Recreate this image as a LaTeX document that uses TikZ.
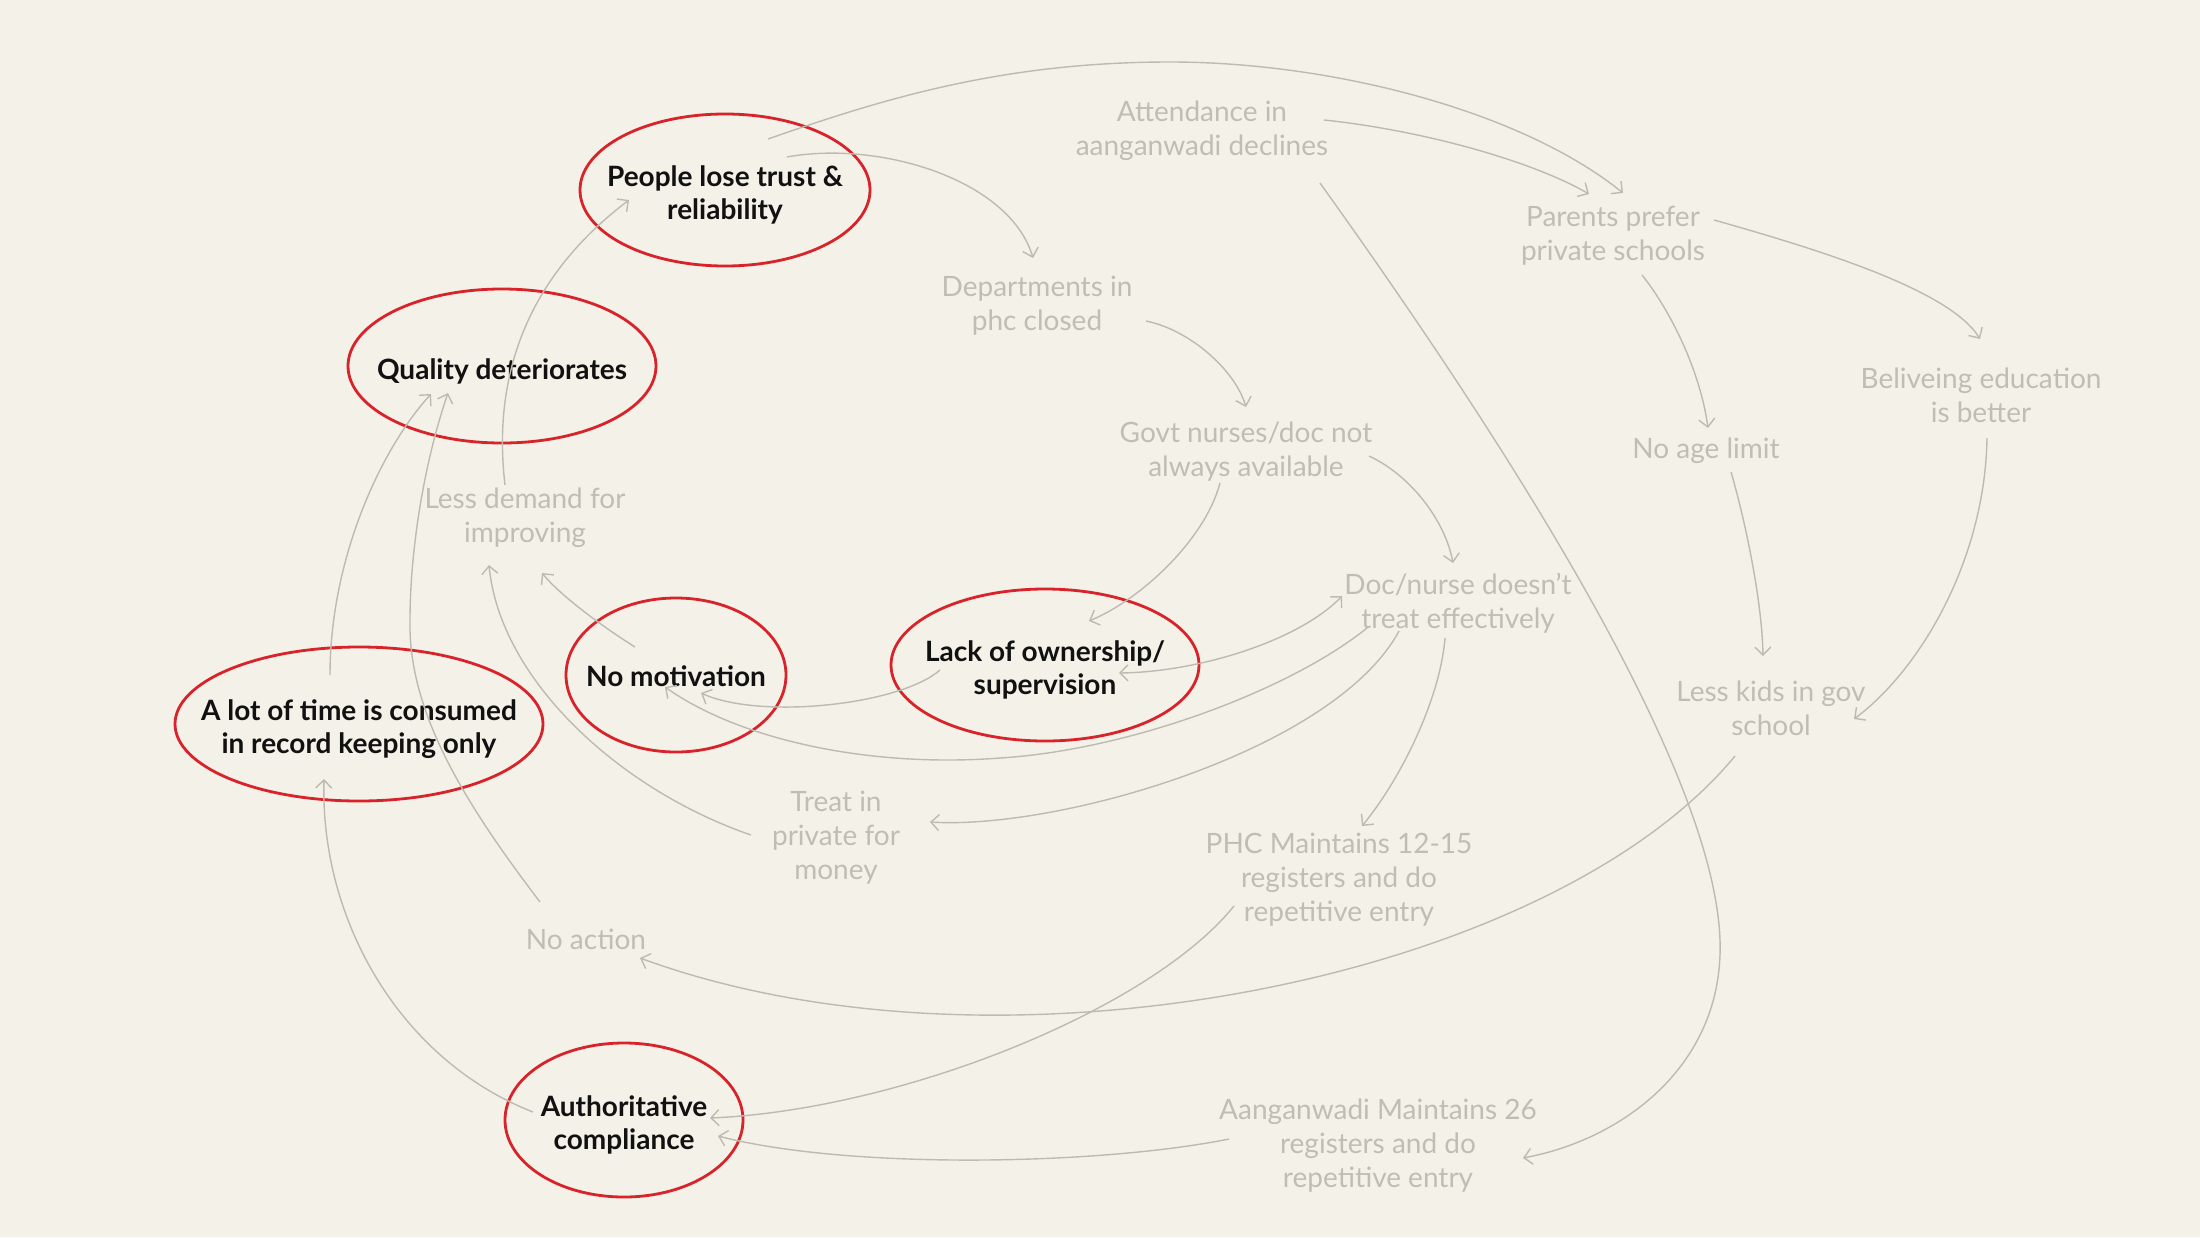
\documentclass[tikz,border=0pt]{standalone}
\usepackage{fontspec}
\setmainfont{Lato}
\usetikzlibrary{shapes.geometric,arrows.meta}
\definecolor{bg}{HTML}{F3F1E8}
\definecolor{myred}{HTML}{D9232A}
\definecolor{gtxt}{HTML}{C0BDB4}
\definecolor{gline}{HTML}{BDBAB2}
\definecolor{blk}{HTML}{111111}
\begin{document}
\begin{tikzpicture}[x=1pt,y=-1pt,
  graylabel/.style={text=gtxt, align=center, font=\fontsize{28}{34}\selectfont, inner sep=0pt, yshift=-3pt},
  blacktext/.style={text=blk, align=center, font=\fontsize{28}{33}\selectfont\bfseries, inner sep=0pt, yshift=-5pt},
  redell/.style={ellipse, draw=myred, line width=2.8pt, inner sep=0pt},
  conn/.style={draw=gline, line width=1.4pt, -{Straight Barb[length=8pt,width=16pt]}},
  connboth/.style={draw=gline, line width=1.4pt, {Straight Barb[length=8pt,width=16pt]}-{Straight Barb[length=8pt,width=16pt]}},
]
\fill[bg] (0,0) rectangle (2200,1237);
\useasboundingbox (0,0) rectangle (2200,1237);

% red ellipses
\node[redell, minimum width=290pt, minimum height=152pt, label={[blacktext]center:{People lose trust \&\\reliability}}] (trust) at (725,190) {};
\node[redell, minimum width=308pt, minimum height=154pt, label={[blacktext]center:{Quality deteriorates}}] (qual) at (502,366) {};
\node[redell, minimum width=220pt, minimum height=154pt, label={[blacktext, yshift=4pt]center:{No motivation}}] (motiv) at (676,675) {};
\node[redell, minimum width=308pt, minimum height=152pt, label={[blacktext]center:{Lack of ownership/\\supervision}}] (lack) at (1045,665) {};
\node[redell, minimum width=368pt, minimum height=154pt, label={[blacktext]center:{A lot of time is consumed\\in record keeping only}}] (time) at (359,724) {};
\node[redell, minimum width=238pt, minimum height=154pt, label={[blacktext]center:{Authoritative\\compliance}}] (auth) at (624,1120) {};

% gray labels
\node[graylabel] (att) at (1202,128) {Attendance in\\aanganwadi declines};
\node[graylabel] (parents) at (1613,233) {Parents prefer\\private schools};
\node[graylabel] (dept) at (1037,303) {Departments in\\phc closed};
\node[graylabel] (belief) at (1981,392) {Beliveing education\\is better};
\node[graylabel] (govt) at (1246,449) {Govt nurses/doc not\\always available};
\node[graylabel] (noage) at (1706,448) {No age limit};
\node[graylabel] (lessdem) at (525,515) {Less demand for\\improving};
\node[graylabel] (doc) at (1458,600) {Doc/nurse doesn't\\treat effectively};
\node[graylabel] (lesskids) at (1771,705) {Less kids in gov\\school};
\node[graylabel] (treat) at (836,835) {Treat in\\private for\\money};
\node[graylabel] (phc) at (1339,877) {PHC Maintains 12-15\\registers and do\\repetitive entry};
\node[graylabel] (noaction) at (586,936) {No action};
\node[graylabel] (aang) at (1378,1143) {Aanganwadi Maintains 26\\registers and do\\repetitive entry};

% connectors
\draw[conn] ([shift={(43,-51)}]trust.center) .. controls (880,100) and (1000,62) .. (1170,62) .. controls (1330,62) and (1520,110) .. ([shift={(10,-43)}]parents.center);
\draw[conn] ([shift={(122,-11)}]att.center) .. controls (1420,130) and (1530,160) .. ([shift={(-24,-42)}]parents.center);
\draw[conn] ([shift={(62,-33)}]trust.center) .. controls (880,140) and (1010,180) .. ([shift={(-4,-48)}]dept.center);
\draw[conn] ([shift={(109,15)}]dept.center) .. controls (1190,330) and (1235,370) .. ([shift={(0,-45)}]govt.center);
\draw[conn] ([shift={(101,-16)}]parents.center) .. controls (1820,250) and (1950,290) .. ([shift={(-1,-56)}]belief.center);
\draw[conn] ([shift={(29,39)}]parents.center) .. controls (1670,310) and (1700,370) .. ([shift={(2,-23)}]noage.center);
\draw[conn] ([shift={(25,21)}]noage.center) .. controls (1745,520) and (1762,600) .. ([shift={(-8,-52)}]lesskids.center);
\draw[conn] ([shift={(6,43)}]belief.center) .. controls (1985,560) and (1920,670) .. ([shift={(83,11)}]lesskids.center);
\draw[conn] ([shift={(118,52)}]att.center) .. controls (1590,560) and (1725,820) .. (1720,955) .. controls (1716,1070) and (1620,1140) .. ([shift={(145,12)}]aang.center);
\draw[conn] ([shift={(-26,31)}]govt.center) .. controls (1205,540) and (1140,600) .. ([shift={(44,-44)}]lack.center);
\draw[conn] ([shift={(123,4)}]govt.center) .. controls (1410,475) and (1445,520) .. ([shift={(-5,-40)}]doc.center);
\draw[connboth] ([shift={(74,8)}]lack.center) .. controls (1200,672) and (1300,640) .. ([shift={(-116,-7)}]doc.center);
\draw[conn] ([shift={(-91,25)}]doc.center) .. controls (1290,690) and (1130,750) .. (1000,758) .. controls (870,768) and (740,740) .. ([shift={(-11,12)}]motiv.center);
\draw[conn] ([shift={(-105,5)}]lack.center) .. controls (900,705) and (760,720) .. ([shift={(25,18)}]motiv.center);
\draw[conn] ([shift={(-59,28)}]doc.center) .. controls (1335,750) and (1060,830) .. ([shift={(94,-16)}]treat.center);
\draw[conn] ([shift={(-13,35)}]doc.center) .. controls (1440,700) and (1400,780) .. ([shift={(23,-54)}]phc.center);
\draw[conn] ([shift={(-41,-28)}]motiv.center) .. controls (600,625) and (560,595) .. ([shift={(17,55)}]lessdem.center);
\draw[conn] ([shift={(-85,-3)}]treat.center) .. controls (620,790) and (500,680) .. ([shift={(-36,47)}]lessdem.center);
\draw[conn] ([shift={(-29,-49)}]time.center) .. controls (330,560) and (380,450) .. ([shift={(-71,28)}]qual.center);
\draw[conn] ([shift={(-46,-37)}]noaction.center) .. controls (470,810) and (412,720) .. (410,630) .. controls (409,550) and (425,460) .. ([shift={(-54,27)}]qual.center);
\draw[conn] ([shift={(-20,-33)}]lessdem.center) .. controls (495,400) and (510,290) .. ([shift={(-96,10)}]trust.center);
\draw[conn] ([shift={(-91,-8)}]auth.center) .. controls (400,1060) and (320,920) .. ([shift={(-35,55)}]time.center);
\draw[conn] ([shift={(-36,48)}]lesskids.center) .. controls (1550,980) and (1000,1090) .. ([shift={(54,19)}]noaction.center);
\draw[conn] ([shift={(-105,26)}]phc.center) .. controls (1150,1010) and (900,1110) .. ([shift={(86,-2)}]auth.center);
\draw[conn] ([shift={(-149,-7)}]aang.center) .. controls (1100,1165) and (850,1170) .. ([shift={(94,16)}]auth.center);
\end{tikzpicture}
\end{document}
